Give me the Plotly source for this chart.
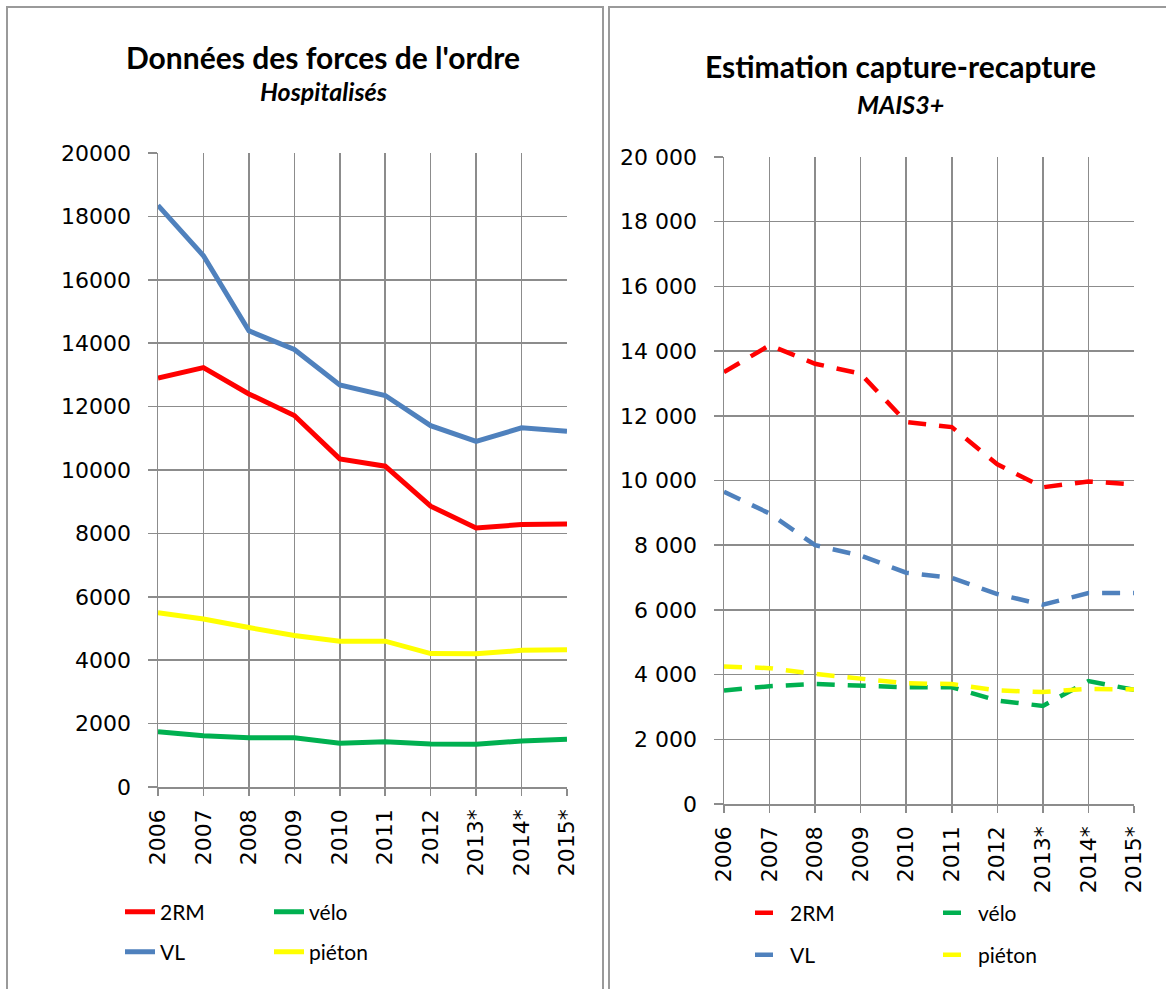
import plotly.graph_objects as go

W, H = 1166, 989

years = ["2006", "2007", "2008", "2009", "2010", "2011", "2012", "2013*", "2014*", "2015*"]

# Left panel: Données des forces de l'ordre - Hospitalisés
fo_2rm = [12900, 13230, 12400, 11720, 10350, 10120, 8860, 8170, 8280, 8300]
fo_velo = [1740, 1620, 1550, 1550, 1380, 1430, 1360, 1350, 1450, 1510]
fo_vl = [18350, 16760, 14390, 13800, 12680, 12350, 11400, 10900, 11330, 11220]
fo_pieton = [5500, 5300, 5030, 4780, 4600, 4600, 4210, 4200, 4310, 4330]

# Right panel: Estimation capture-recapture - MAIS3+
cr_2rm = [13350, 14180, 13610, 13300, 11810, 11650, 10500, 9790, 9970, 9880]
cr_velo = [3510, 3640, 3710, 3670, 3610, 3610, 3200, 3030, 3800, 3530]
cr_vl = [9650, 8980, 8000, 7680, 7150, 6990, 6490, 6160, 6520, 6520]
cr_pieton = [4250, 4200, 4020, 3870, 3730, 3710, 3510, 3460, 3560, 3540]

series_names = ["2RM", "vélo", "VL", "piéton"]
colors = {"2RM": "#FF0000", "vélo": "#00B050", "VL": "#4F81BD", "piéton": "#FFFF00"}

left_data = {"2RM": fo_2rm, "vélo": fo_velo, "VL": fo_vl, "piéton": fo_pieton}
right_data = {"2RM": cr_2rm, "vélo": cr_velo, "VL": cr_vl, "piéton": cr_pieton}

left_legend = {"2RM": "legend", "vélo": "legend", "VL": "legend2", "piéton": "legend2"}
right_legend = {"2RM": "legend3", "vélo": "legend3", "VL": "legend4", "piéton": "legend4"}

fig = go.Figure()
for name in series_names:
    fig.add_trace(go.Scatter(
        x=years, y=left_data[name], mode="lines", name=name,
        line=dict(color=colors[name], width=5),
        xaxis="x", yaxis="y", legend=left_legend[name],
    ))
for name in series_names:
    fig.add_trace(go.Scatter(
        x=years, y=right_data[name], mode="lines", name=name,
        line=dict(color=colors[name], width=4.5, dash="18px,13px"),
        xaxis="x2", yaxis="y2", legend=right_legend[name],
    ))

def px_x(v):
    return v / W

def px_y(v):
    return 1 - v / H

grid = "#8C8C8C"
tickfont = dict(family="DejaVu Sans", size=22, color="black")
title_font = "Lato, Calibri, sans-serif"

xcommon = dict(type="category", range=[0, 9], showgrid=True, gridcolor=grid, gridwidth=1.5,
               showline=True, linecolor=grid, linewidth=1.5, ticks="outside", ticklen=7,
               tickcolor=grid, tickwidth=1.5, tickangle=-90, tickfont=tickfont,
               ticklabelstandoff=5, automargin=False, fixedrange=True)
ycommon = dict(range=[0, 20000], dtick=2000, showgrid=True, gridcolor=grid, gridwidth=1.5,
               showline=True, linecolor=grid, linewidth=1.5, ticks="outside", ticklen=9,
               tickcolor=grid, tickwidth=1.5, tickfont=tickfont, zeroline=False,
               ticklabelstandoff=12, automargin=False, fixedrange=True)

legend_common = dict(orientation="h", bgcolor="rgba(0,0,0,0)", borderwidth=0,
                     font=dict(family=title_font, size=21, color="black"),
                     xanchor="left", yanchor="middle", entrywidthmode="pixels",
                     tracegroupgap=0, itemclick=False, itemdoubleclick=False)

fig.update_layout(
    width=W, height=H,
    margin=dict(l=0, r=0, t=0, b=0, autoexpand=False),
    paper_bgcolor="white", plot_bgcolor="white",
    separators=", ",
    xaxis=dict(domain=[px_x(158), px_x(567)], anchor="y", **xcommon),
    yaxis=dict(domain=[px_y(787), px_y(153)], anchor="x", tickformat="d", **ycommon),
    xaxis2=dict(domain=[px_x(724), px_x(1134)], anchor="y2", **xcommon),
    yaxis2=dict(domain=[px_y(804), px_y(157)], anchor="x2", tickformat=",d", **ycommon),
    legend=dict(x=px_x(120), y=px_y(912), entrywidth=104, **legend_common),
    legend2=dict(x=px_x(120), y=px_y(952), entrywidth=104, **legend_common),
    legend3=dict(x=px_x(750), y=px_y(913), entrywidth=143, **legend_common),
    legend4=dict(x=px_x(750), y=px_y(955), entrywidth=143, **legend_common),
    annotations=[
        dict(text="<b>Données des forces de l'ordre</b>", x=px_x(323), y=px_y(57),
             xref="paper", yref="paper", showarrow=False, xanchor="center", yanchor="middle",
             font=dict(family=title_font, size=30, color="black")),
        dict(text="<b><i>Hospitalisés</i></b>", x=px_x(323), y=px_y(91),
             xref="paper", yref="paper", showarrow=False, xanchor="center", yanchor="middle",
             font=dict(family=title_font, size=25, color="black")),
        dict(text="<b>Estimation capture-recapture</b>", x=px_x(900), y=px_y(66),
             xref="paper", yref="paper", showarrow=False, xanchor="center", yanchor="middle",
             font=dict(family=title_font, size=30, color="black")),
        dict(text="<b><i>MAIS3+</i></b>", x=px_x(900), y=px_y(104),
             xref="paper", yref="paper", showarrow=False, xanchor="center", yanchor="middle",
             font=dict(family=title_font, size=25, color="black")),
    ],
    shapes=[
        dict(type="rect", xref="paper", yref="paper", x0=px_x(7), x1=px_x(603),
             y0=-0.05, y1=px_y(7), line=dict(color="#9A9A9A", width=2)),
        dict(type="rect", xref="paper", yref="paper", x0=px_x(609), x1=1.05,
             y0=-0.05, y1=px_y(7), line=dict(color="#9A9A9A", width=2)),
    ],
)

fig.write_html("out.html", config={"displayModeBar": False, "staticPlot": True},
               post_script="document.body.style.margin='0';document.body.style.overflow='hidden';")
